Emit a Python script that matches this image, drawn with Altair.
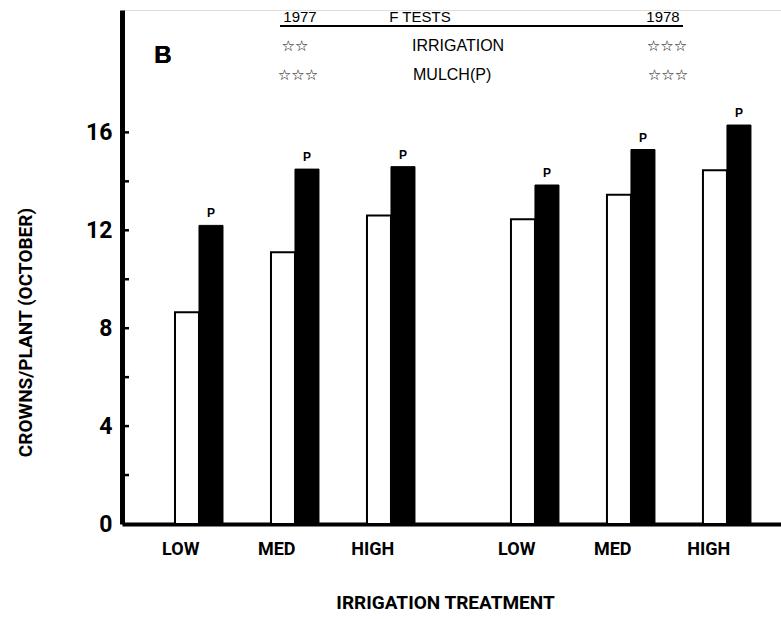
import altair as alt
import pandas as pd

treatments = ["LOW", "MED", "HIGH"]
years = [1977, 1978]
no_mulch = {1977: [8.65, 11.1, 12.6], 1978: [12.45, 13.45, 14.45]}
mulch = {1977: [12.2, 14.5, 14.6], 1978: [13.85, 15.3, 16.3]}
y_ticks_minor = [2, 4, 6, 8, 10, 12, 14, 16]
y_labels = [0, 4, 8, 12, 16]

BAR_W = 0.25
rows = []
for yi, yr in enumerate(years):
    for ti, t in enumerate(treatments):
        c = ti + 1 + yi * 3.5
        rows.append(dict(year=yr, treatment=t, center=c,
                         open_val=no_mulch[yr][ti], mulch_val=mulch[yr][ti],
                         ox0=c - BAR_W, ox1=c, mx0=c, mx1=c + BAR_W,
                         pc=c + BAR_W / 2, lc=c - 0.19))
df = pd.DataFrame(rows)
ticks_df = pd.DataFrame({"v": y_ticks_minor})

W, H = 659, 514
COND = "Roboto, Liberation Sans, Arial, sans-serif"
SANS = "Liberation Sans, Arial, Helvetica, sans-serif"

xscale = alt.Scale(domain=[0.198, 7.063], nice=False, zero=False)
yscale = alt.Scale(domain=[0, 21], nice=False)

xaxis = alt.Axis(domainWidth=4, domainColor="black", ticks=False, labels=False, grid=False,
                 title="IRRIGATION TREATMENT", titleFont=COND, titleFontSize=19,
                 titleFontWeight="bold", titleColor="black", titleX=323, titleY=78,
                 titleBaseline="middle", titleAlign="center")
yaxis = alt.Axis(values=y_labels, ticks=False, domainWidth=5, domainColor="black", grid=False,
                 labelPadding=10, labelFont=COND, labelFontSize=23, labelFontWeight="bold",
                 labelColor="black",
                 title="CROWNS/PLANT (OCTOBER)", titleFont=COND, titleFontSize=19,
                 titleFontWeight="bold", titleColor="black", titleAngle=270,
                 titleX=-97, titleY=322, titleAlign="center", titleBaseline="middle")

base = alt.Chart(df)

open_bars = base.mark_bar(fill="white", stroke="black", strokeWidth=2).encode(
    x=alt.X("ox0:Q", scale=xscale, axis=xaxis),
    x2="ox1:Q",
    y=alt.Y("open_val:Q", scale=yscale, axis=yaxis, stack=None),
    y2=alt.datum(0),
)
mulch_bars = base.mark_bar(fill="black", stroke="black", strokeWidth=1).encode(
    x=alt.X("mx0:Q", scale=xscale),
    x2="mx1:Q",
    y=alt.Y("mulch_val:Q", scale=yscale, stack=None),
    y2=alt.datum(0),
)
p_labels = base.mark_text(text="P", fontSize=12, fontWeight="bold", font=SANS,
                          dy=-12, color="black").encode(
    x=alt.X("pc:Q", scale=xscale),
    y=alt.Y("mulch_val:Q", scale=yscale),
)
x_labels = base.mark_text(fontSize=18, fontWeight="bold", font=COND, color="black",
                          baseline="middle").encode(
    x=alt.X("lc:Q", scale=xscale),
    y=alt.value(H + 26),
    text="treatment:N",
)
tick_rules = alt.Chart(ticks_df).mark_rule(color="black", strokeWidth=2.5).encode(
    y=alt.Y("v:Q", scale=yscale),
    x=alt.value(0),
    x2=alt.value(7),
)

# header annotations (F tests)
ann = pd.DataFrame({
    "t": ["1977", "F  TESTS", "1978"],
    "px": [178, 298, 541],
    "py": [7, 7, 7],
})
ann_text = alt.Chart(ann).mark_text(font=SANS, fontSize=15, color="black",
                                    baseline="middle", align="center").encode(
    x=alt.X("px:Q", scale=None), y=alt.Y("py:Q", scale=None), text="t:N")
rows_df = pd.DataFrame({
    "t": ["IRRIGATION", "MULCH(P)"],
    "px": [290, 291],
    "py": [36, 65],
})
row_text = alt.Chart(rows_df).mark_text(font=SANS, fontSize=16, color="black",
                                        baseline="middle", align="left").encode(
    x=alt.X("px:Q", scale=None), y=alt.Y("py:Q", scale=None), text="t:N")
stars_df = pd.DataFrame({
    "t": ["\u2606\u2606", "\u2606\u2606\u2606", "\u2606\u2606\u2606", "\u2606\u2606\u2606"],
    "px": [173, 545, 176, 546],
    "py": [36, 36, 65, 65],
})
stars = alt.Chart(stars_df).mark_text(font="DejaVu Sans", fontSize=15, fontWeight="bold",
                                      color="black", baseline="middle", align="center").encode(
    x=alt.X("px:Q", scale=None), y=alt.Y("py:Q", scale=None), text="t:N")
header_rule = alt.Chart(ann).mark_rule(color="black", strokeWidth=2).encode(
    x=alt.value(158), x2=alt.value(561), y=alt.value(16))
b_label = alt.Chart(ann).mark_text(text="B", font=SANS, fontSize=24, fontWeight="bold",
                                   color="black").encode(
    x=alt.value(41), y=alt.value(46))

chart = alt.layer(open_bars, mulch_bars, p_labels, x_labels, tick_rules,
                  ann_text, row_text, stars, header_rule, b_label).properties(
    width=W, height=H,
    autosize=alt.AutoSizeParams(type="none"),
    padding={"left": 122, "top": 10, "right": 0, "bottom": 95},
).configure_view(stroke=None).configure(background="white")

chart.save("out.html", embed_options={"renderer": "svg", "actions": False})
